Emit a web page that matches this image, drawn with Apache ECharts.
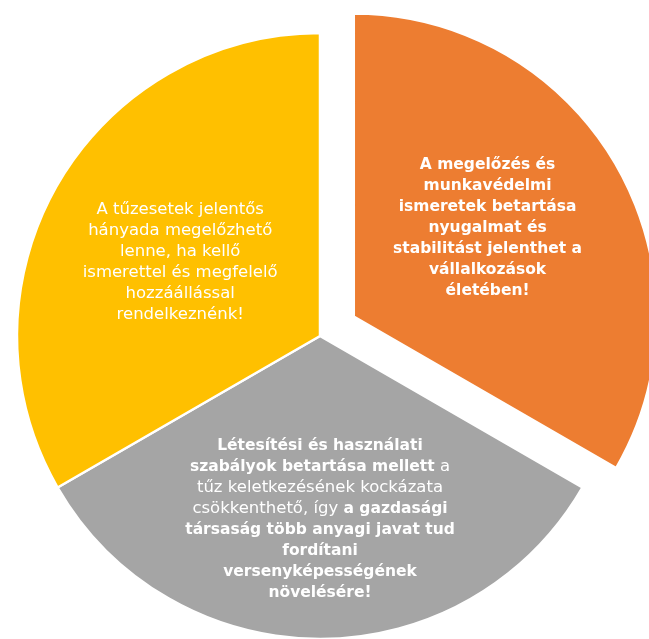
<!DOCTYPE html>
<html>
<head>
<meta charset="utf-8">
<script src="https://cdn.jsdelivr.net/npm/echarts@6/dist/echarts.min.js"></script>
<style>
html,body{margin:0;padding:0;background:#ffffff;}
#c{width:649px;height:639px;}
</style>
</head>
<body>
<div id="c"></div>
<script>
// ---- data ----
const sliceNames = ['Megelőzés és munkavédelem', 'Létesítési és használati szabályok', 'Tűzesetek megelőzhetősége'];
const sliceValues = [1, 1, 1];
const sliceColors = ['#ED7D31', '#A5A5A5', '#FFC000'];
const sliceSelected = [true, false, false];
const orangeLines = [
  '{b|A megelőzés és}',
  '{b|munkavédelmi}',
  '{b|ismeretek betartása}',
  '{b|nyugalmat és}',
  '{b|stabilitást jelenthet a}',
  '{b|vállalkozások}',
  '{b|életében!}'
];
const grayLines = [
  '{b|Létesítési és használati}',
  '{b|szabályok betartása mellett}{n| a}',
  '{n|tűz keletkezésének kockázata}',
  '{n|csökkenthető, így }{b|a gazdasági}',
  '{b|társaság több anyagi javat tud}',
  '{b|fordítani}',
  '{b|versenyképességének}',
  '{b|növelésére!}'
];
const yellowLines = [
  '{n|A tűzesetek jelentős}',
  '{n|hányada megelőzhető}',
  '{n|lenne, ha kellő}',
  '{n|ismerettel és megfelelő}',
  '{n|hozzáállással}',
  '{n|rendelkeznénk!}'
];
const sliceLabels = [orangeLines, grayLines, yellowLines];
const labelPaddings = [[0, 0, 22, 0], [58, 0, 0, 0], [6, 12, 0, 0]];

// ---- chart ----
const FONT = '"DejaVu Sans", sans-serif';
const chart = echarts.init(document.getElementById('c'), null, {renderer: 'canvas'});
chart.setOption({
  animation: false,
  backgroundColor: '#ffffff',
  series: [{
    type: 'pie',
    center: [320, 336],
    radius: 303,
    startAngle: 90,
    clockwise: true,
    selectedMode: 'single',
    selectedOffset: 39,
    silent: true,
    itemStyle: {borderColor: '#ffffff', borderWidth: 2.5},
    labelLine: {show: false},
    emphasis: {disabled: true},
    label: {
      show: true,
      position: 'inside',
      align: 'center',
      color: '#ffffff',
      rich: {
        b: {fontFamily: FONT, fontWeight: 'bold', fontSize: 15.5, lineHeight: 21, color: '#ffffff'},
        n: {fontFamily: FONT, fontWeight: 'normal', fontSize: 16.5, lineHeight: 21, color: '#ffffff'}
      }
    },
    data: sliceNames.map((name, i) => ({
      name: name,
      value: sliceValues[i],
      selected: sliceSelected[i],
      itemStyle: {color: sliceColors[i]},
      label: {
        formatter: sliceLabels[i].join('\n'),
        padding: labelPaddings[i]
      }
    }))
  }]
});
</script>
</body>
</html>
